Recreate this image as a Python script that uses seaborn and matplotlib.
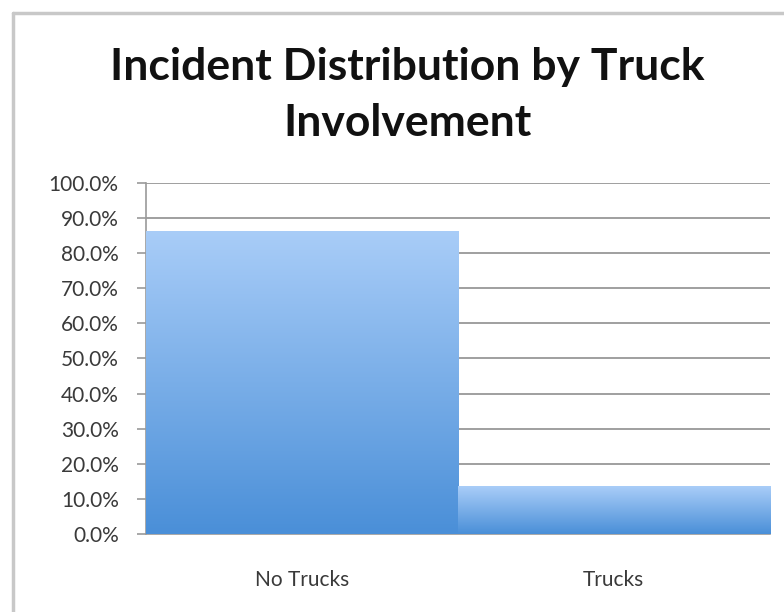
import numpy as np
import pandas as pd
import matplotlib
matplotlib.use("Agg")
import matplotlib.pyplot as plt
import matplotlib.colors as mcolors
from matplotlib.lines import Line2D
from matplotlib.ticker import PercentFormatter, MultipleLocator
import seaborn as sns

# -------- DATA --------
categories = ["No Trucks", "Trucks"]
shares = [86.4, 13.6]
title = "Incident Distribution by Truck\nInvolvement"

df = pd.DataFrame({"group": categories, "share": shares})

# -------- STYLE --------
sns.set_theme(style="white")
plt.rcParams["font.family"] = ["Lato", "DejaVu Sans"]

fig = plt.figure(figsize=(7.84, 6.12), dpi=100)
ax = fig.add_axes([0.186, 0.1275, 0.796, 0.5735])

sns.barplot(data=df, x="group", y="share", color="#6fa6e6", width=1.0,
            saturation=1, ax=ax, zorder=3)

# vertical gradient inside each bar
grad = mcolors.LinearSegmentedColormap.from_list("blue", ["#4a8fd8", "#a9cdf8"])
ramp = np.linspace(0, 1, 256).reshape(-1, 1)
for p in ax.patches:
    x0, y0 = p.get_x(), p.get_y()
    w, h = p.get_width(), p.get_height()
    im = ax.imshow(ramp, cmap=grad, origin="lower", aspect="auto",
                   extent=[x0, x0 + w, y0, y0 + h], zorder=4)
    im.set_clip_path(p)
    p.set_edgecolor("none")

ax.set_xlim(-0.5, 1.5)
ax.set_ylim(0, 100)
ax.yaxis.set_major_locator(MultipleLocator(10))
ax.yaxis.set_major_formatter(PercentFormatter(decimals=1))
ax.grid(axis="y", color="#858585", linewidth=1.1, zorder=1)
ax.set_axisbelow(True)

for s in ["top", "right"]:
    ax.spines[s].set_visible(False)
for s in ["left", "bottom"]:
    ax.spines[s].set_color("#9a9a9a")
    ax.spines[s].set_linewidth(1.2)

ax.set_xticks([-0.5, 0.5, 1.5], minor=True)
ax.tick_params(axis="x", which="major", length=0, pad=26,
               labelsize=15, labelcolor="#3a3a3a")
ax.tick_params(axis="x", which="minor", length=6.5, color="#9a9a9a", width=1.2)
ax.tick_params(axis="y", length=6.5, color="#9a9a9a", width=1.2, pad=13,
               labelsize=15, labelcolor="#3a3a3a", left=True)
ax.set_xlabel("")
ax.set_ylabel("")

fig.suptitle(title, x=0.52, y=0.845, fontsize=32, fontweight="bold",
             linespacing=1.5, va="center", color="#111111")

# chart frame (top and left edges visible)
fig.add_artist(Line2D([0.0166, 0.0166], [0.0, 0.979], color="#c8c8c8",
                      linewidth=2.5, transform=fig.transFigure))
fig.add_artist(Line2D([0.0166, 1.0], [0.979, 0.979], color="#c8c8c8",
                      linewidth=2.5, transform=fig.transFigure))

fig.savefig("out.png", dpi=100)
